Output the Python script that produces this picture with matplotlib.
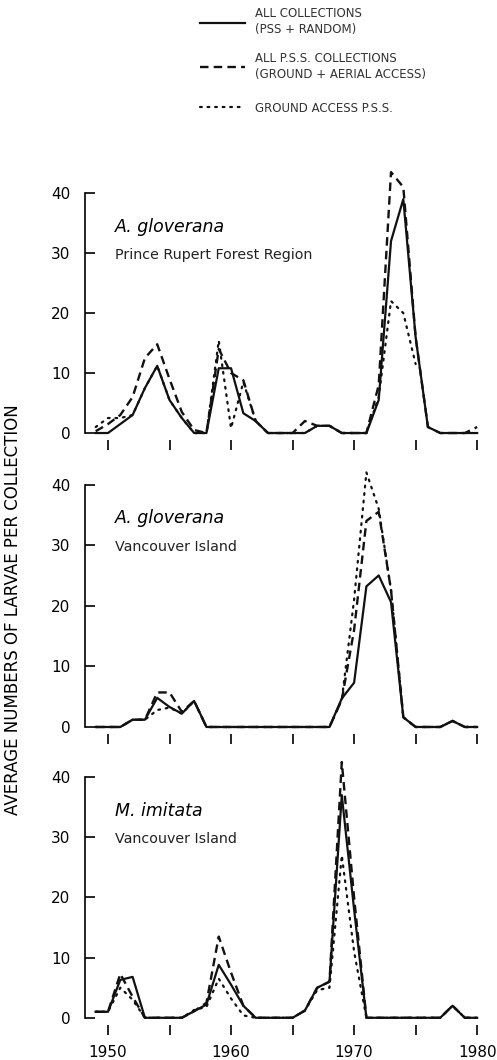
import numpy as np
import matplotlib
matplotlib.use('Agg')
import matplotlib.pyplot as plt

plt.rcParams['font.family'] = ['DejaVu Sans']

years = np.arange(1949, 1981)

# A. gloverana, Prince Rupert Forest Region
all_1 = [0, 0, 1.5, 3, 7.5, 11.2, 5.5, 2.5, 0, 0, 10.8, 10.8, 3.3, 2, 0, 0,
         0, 0, 1.2, 1.2, 0, 0, 0, 5.5, 32, 39, 16, 1, 0, 0, 0, 0]
pss_1 = [0.3, 1.5, 3, 6, 12.5, 14.8, 9, 3.5, 0.5, 0, 14, 10, 8.8, 2, 0, 0,
         0, 2, 1.2, 1.2, 0, 0, 0, 8, 43.5, 41, 16, 1, 0, 0, 0, 1]
gnd_1 = [1, 2.5, 2.5, 3, 7.5, 11.2, 5.5, 2.5, 0, 0, 15.4, 0.8, 8.5, 2, 0, 0,
         0, 0, 1.2, 1.2, 0, 0, 0, 6, 22, 20, 11.5, np.nan, np.nan, np.nan, np.nan, np.nan]

# A. gloverana, Vancouver Island
all_2 = [0, 0, 0, 1.2, 1.2, 4.8, 3.3, 2.2, 4.3, 0, 0, 0, 0, 0, 0, 0,
         0, 0, 0, 0, 4.7, 7.3, 23.2, 25, 20.6, 1.6, 0, 0, 0, 1, 0, 0]
pss_2 = [0, 0, 0, 1.2, 1.2, 5.7, 5.7, 2.5, 4.3, 0, 0, 0, 0, 0, 0, 0,
         0, 0, 0, 0, 4.5, 16, 34, 35.5, 22.6, 1.6, 0, 0, 0, 1, 0, 0]
gnd_2 = [0, 0, 0, 1.2, 1.2, 2.8, 3.2, 2.2, 4.3, 0, 0, 0, 0, 0, 0, 0,
         0, 0, 0, 0, 4.5, 21, 42, 36, 22.6, 1.6, 0, 0, 0, 1, 0, 0]

# M. imitata, Vancouver Island
all_3 = [1, 1, 6.3, 6.8, 0, 0, 0, 0, 1.1, 2.2, 8.8, 5.5, 2, 0, 0, 0,
         0, 1.2, 5, 6, 37, 18, 0, 0, 0, 0, 0, 0, 0, 2, 0, 0]
pss_3 = [1, 1, 7.3, 3.5, 0, 0, 0, 0, 1.1, 2.5, 13.5, 7.5, 2, 0, 0, 0,
         0, 1.2, 5, 6, 42.5, 20, 0, 0, 0, 0, 0, 0, 0, 2, 0, 0]
gnd_3 = [1, 1, 5, 3, 0, 0, 0, 0, 1.3, 1.8, 6.5, 3.2, 0.4, 0, 0, 0,
         0, 1.2, 4.6, 5, 27, 11, 0, 0, 0, 0, 0, 0, 0, 2, 0, 0]

panels = [
    ('A. gloverana', 'Prince Rupert Forest Region', all_1, pss_1, gnd_1),
    ('A. gloverana', 'Vancouver Island', all_2, pss_2, gnd_2),
    ('M. imitata', 'Vancouver Island', all_3, pss_3, gnd_3),
]
legend_labels = ['ALL COLLECTIONS\n(PSS + RANDOM)',
                 'ALL P.S.S. COLLECTIONS\n(GROUND + AERIAL ACCESS)',
                 'GROUND ACCESS P.S.S.']
xticks = [1950, 1955, 1960, 1965, 1970, 1975, 1980]
xlabels = ['1950', '', '1960', '', '1970', '', '1980']

fig = plt.figure(figsize=(4.97, 10.6), dpi=100)
bottoms = [0.5847, 0.3073, 0.0330]
heights = [0.2614, 0.2642, 0.2623]
ink = '#111111'

lines = []
for i, (title, region, a, p, g) in enumerate(panels):
    ax = fig.add_axes([0.171, bottoms[i], 0.795, heights[i]])
    l3, = ax.plot(years, g, color=ink, lw=1.6, linestyle=(0, (0.8, 2.6)),
                  dash_capstyle='round', zorder=2)
    l2, = ax.plot(years, p, color=ink, lw=1.7, linestyle=(0, (3.6, 2.2)), zorder=3)
    l1, = ax.plot(years, a, color=ink, lw=1.6, zorder=4)
    ax.set_xlim(1948.13, 1980.24)
    ax.set_ylim(-1.2, 45)
    for s in ['top', 'right', 'bottom']:
        ax.spines[s].set_visible(False)
    ax.spines['left'].set_bounds(0, 40)
    ax.spines['left'].set_linewidth(1.2)
    ax.set_yticks([0, 10, 20, 30, 40])
    ax.tick_params(axis='y', direction='in', length=7.5, width=1.2,
                   pad=10.5, labelsize=11)
    ax.set_xticks(xticks)
    ax.tick_params(axis='x', direction='out', length=7.5, width=1.2,
                   pad=7, labelsize=11)
    if i == 2:
        ax.set_xticklabels(xlabels)
    else:
        ax.set_xticklabels([])
    tr = ax.get_yaxis_transform()
    ax.text(0.076, 34.4, title, transform=tr, fontsize=12.5, style='italic',
            va='center', ha='left')
    ax.text(0.076, 29.7, region, transform=tr, fontsize=10.3, color='#222222',
            va='center', ha='left')
    if i == 0:
        lines = [l1, l2, l3]

fig.text(0.026, 0.4245, 'AVERAGE NUMBERS OF LARVAE PER COLLECTION',
         rotation=90, fontsize=12, ha='center', va='center')

leg1 = fig.legend(lines[:2], legend_labels[:2], loc='upper left',
                  bbox_to_anchor=(0.402, 0.993), frameon=False, fontsize=8.5,
                  handlelength=3.8, handletextpad=0.85, labelspacing=1.3,
                  borderpad=0, borderaxespad=0, labelcolor='#333333')
for t in leg1.get_texts():
    t.set_linespacing(1.3)
leg2 = fig.legend(lines[2:], legend_labels[2:], loc='center left',
                  bbox_to_anchor=(0.402, 1 - 108 / 1060), frameon=False, fontsize=8.5,
                  handlelength=3.8, handletextpad=0.85,
                  borderpad=0, borderaxespad=0, labelcolor='#333333')

fig.savefig('out.png', dpi=100)
